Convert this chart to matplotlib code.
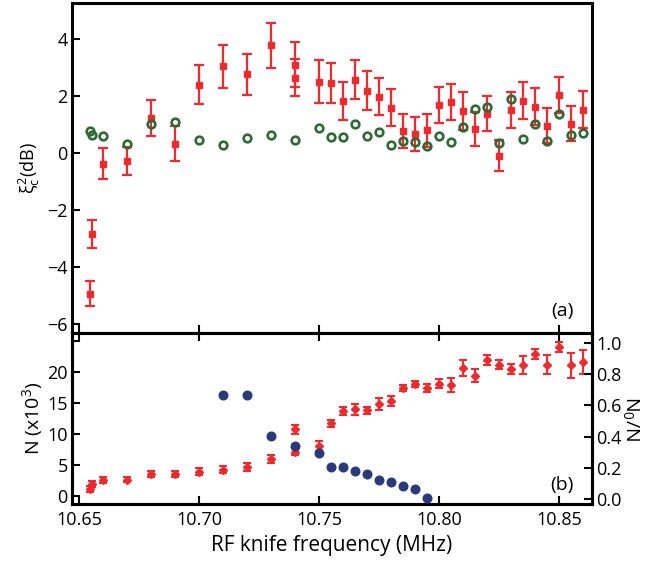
import matplotlib
matplotlib.use("Agg")
import matplotlib.pyplot as plt
import numpy as np

plt.rcParams['font.family'] = ['Open Sans', 'DejaVu Sans']
plt.rcParams['mathtext.fontset'] = 'custom'
plt.rcParams['mathtext.rm'] = 'Open Sans'
plt.rcParams['mathtext.it'] = 'Open Sans'

# ---------------- top panel (a): squeezing parameter ----------------
f_sq = [10.6543, 10.6555, 10.66, 10.67, 10.68, 10.69, 10.70, 10.71, 10.72, 10.73,
        10.74, 10.74, 10.75, 10.755, 10.76, 10.765, 10.77, 10.775, 10.78, 10.785,
        10.79, 10.795, 10.80, 10.805, 10.81, 10.815, 10.82, 10.825, 10.83, 10.835,
        10.84, 10.845, 10.85, 10.855, 10.86]
xi_sq = [-4.92, -2.84, -0.37, -0.27, 1.22, 0.33, 2.39, 3.03, 2.75, 3.77,
         3.09, 2.64, 2.50, 2.46, 1.81, 2.57, 2.18, 1.97, 1.59, 0.76,
         0.66, 0.79, 1.67, 1.78, 1.46, 0.85, 1.38, -0.09, 1.52, 1.83,
         1.62, 0.96, 2.04, 1.03, 1.52]
xi_err = [0.45, 0.48, 0.55, 0.49, 0.64, 0.62, 0.68, 0.75, 0.73, 0.78,
          0.79, 0.65, 0.75, 0.70, 0.67, 0.69, 0.68, 0.64, 0.66, 0.60,
          0.60, 0.59, 0.63, 0.64, 0.67, 0.60, 0.62, 0.54, 0.63, 0.64,
          0.64, 0.62, 0.63, 0.62, 0.64]

f_ref = [10.6543, 10.6555, 10.66, 10.67, 10.68, 10.69, 10.70, 10.71, 10.72, 10.73,
         10.74, 10.75, 10.755, 10.76, 10.765, 10.77, 10.775, 10.78, 10.785, 10.79,
         10.795, 10.80, 10.805, 10.81, 10.815, 10.82, 10.825, 10.83, 10.835, 10.84,
         10.845, 10.85, 10.855, 10.86]
xi_ref = [0.77, 0.63, 0.61, 0.33, 1.03, 1.07, 0.44, 0.28, 0.52, 0.62,
          0.47, 0.86, 0.57, 0.55, 1.00, 0.58, 0.73, 0.29, 0.42, 0.38,
          0.26, 0.59, 0.38, 0.90, 1.54, 1.61, 0.35, 1.89, 0.49, 1.00,
          0.43, 1.38, 0.62, 0.71]

# ---------------- bottom panel (b): atom number and condensate fraction -------
f_N = [10.6543, 10.6555, 10.66, 10.67, 10.68, 10.69, 10.70, 10.71, 10.72, 10.73,
       10.74, 10.74, 10.75, 10.755, 10.76, 10.765, 10.77, 10.775, 10.78, 10.785,
       10.79, 10.795, 10.80, 10.805, 10.81, 10.815, 10.82, 10.825, 10.83, 10.835,
       10.84, 10.845, 10.85, 10.855, 10.86]
N_vals = [1.1, 1.9, 2.5, 2.6, 3.5, 3.45, 3.9, 4.2, 4.6, 5.9,
          10.7, 7.1, 8.1, 11.7, 13.7, 14.0, 13.8, 14.8, 15.3, 17.4,
          18.1, 17.4, 18.1, 17.9, 20.6, 19.4, 21.9, 21.2, 20.5, 21.1,
          22.9, 21.2, 24.0, 21.1, 21.6]
N_err = [0.5, 0.5, 0.5, 0.4, 0.5, 0.5, 0.5, 0.6, 0.6, 0.6,
         0.7, 0.6, 0.8, 0.6, 0.6, 0.9, 0.6, 1.0, 0.8, 0.5,
         0.5, 0.7, 0.7, 1.2, 1.3, 1.0, 0.8, 0.8, 0.8, 1.5,
         0.8, 1.5, 0.8, 2.0, 1.9]

f_cf = [10.71, 10.72, 10.73, 10.74, 10.75, 10.755, 10.76, 10.765, 10.77, 10.775,
        10.78, 10.785, 10.79, 10.795]
cond_frac = [0.665, 0.665, 0.403, 0.341, 0.292, 0.207, 0.203, 0.179, 0.160, 0.120,
             0.107, 0.083, 0.062, 0.008]

red = '#ee2a2e'
green = '#2e6a34'
navy = '#283a7c'
lw_spine = 2.2
fs = 13
fl = 14

fig = plt.figure(figsize=(6.46, 5.63), dpi=100)
ax1 = fig.add_axes([72/646, 1-333/563, 520/646, 330/563])
ax2 = fig.add_axes([72/646, 1-504/563, 520/646, 171/563])
ax3 = ax2.twinx()

xlim = (10.647, 10.8637)

# top panel
ax1.errorbar(f_sq, xi_sq, yerr=xi_err, fmt='s', color=red, ms=5, capsize=3.5,
             elinewidth=1.6, capthick=1.6, zorder=3)
ax1.plot(f_ref, xi_ref, 'o', mfc='none', mec=green, ms=5.5, mew=1.9, zorder=4)
ax1.set_xlim(*xlim)
ax1.set_ylim(-6.3, 5.25)
ax1.set_yticks([-6, -4, -2, 0, 2, 4])
ax1.set_xticks([10.65, 10.70, 10.75, 10.80, 10.85])
ax1.tick_params(axis='x', labelbottom=False, direction='in', length=6, width=1.5)
ax1.tick_params(axis='y', direction='in', length=6, width=1.5, labelsize=fs, pad=3)
ax1.set_ylabel(r'$\xi_c^2$(dB)', fontsize=fs, labelpad=4)
ax1.text(0.965, 0.04, '(a)', transform=ax1.transAxes, ha='right', va='bottom', fontsize=fs+1)

# bottom panel
ax2.errorbar(f_N, N_vals, yerr=N_err, fmt='D', color=red, ms=4.5, capsize=3,
             elinewidth=1.5, capthick=1.5, zorder=3)
ax3.plot(f_cf, cond_frac, 'o', color=navy, ms=6.2, zorder=4)
ax2.set_xlim(*xlim)
ax2.set_ylim(-1.35, 26.3)
ax3.set_ylim(-0.032, 1.064)
ax2.set_yticks([0, 5, 10, 15, 20, 25])
ax2.set_yticklabels(['0', '5', '10', '15', '20', ''])
ax3.set_yticks([0.0, 0.2, 0.4, 0.6, 0.8, 1.0])
ax3.set_yticklabels(['0.0', '0.2', '0.4', '0.6', '0.8', '1.0'])
ax2.set_xticks([10.65, 10.70, 10.75, 10.80, 10.85])
ax2.set_xticklabels(['10.65', '10.70', '10.75', '10.80', '10.85'])
ax2.tick_params(axis='x', direction='in', length=6, width=1.5, labelsize=fs, top=True, pad=5)
ax2.tick_params(axis='y', direction='in', length=6, width=1.5, labelsize=fs, pad=3)
ax3.tick_params(axis='y', direction='in', length=6, width=1.5, labelsize=fs, pad=3)
ax2.set_xlabel('RF knife frequency (MHz)', fontsize=fl + 1, labelpad=4)
ax2.set_ylabel(r'N (x10$^3$)', fontsize=fl, labelpad=2)
ax3.set_ylabel(r'N$_0$/N', fontsize=fl, rotation=270, labelpad=14)
ax2.text(0.965, 0.06, '(b)', transform=ax2.transAxes, ha='right', va='bottom', fontsize=fs+1)

for ax in (ax1, ax2, ax3):
    for s in ax.spines.values():
        s.set_linewidth(lw_spine)

fig.savefig('out.png', dpi=100)
